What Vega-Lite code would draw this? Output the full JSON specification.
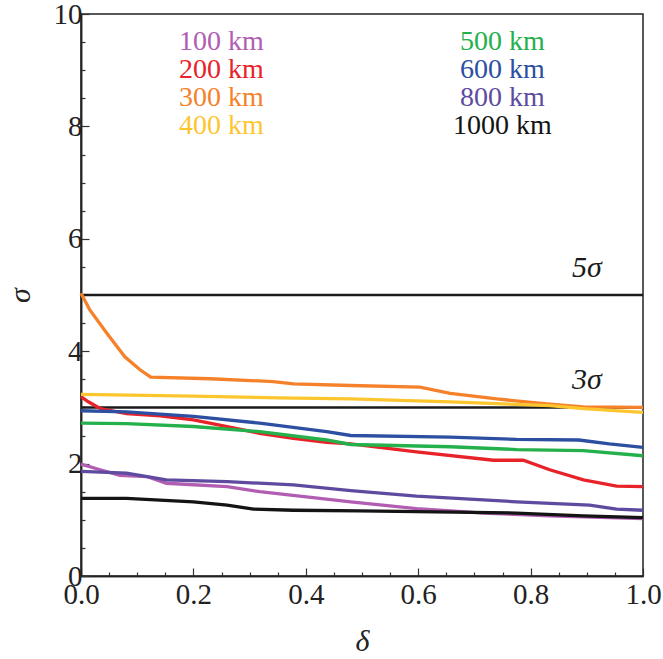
{
  "$schema": "https://vega.github.io/schema/vega-lite/v6.json",
  "width": 562,
  "height": 562,
  "autosize": {"type": "none"},
  "padding": {"left": 81, "top": 14, "right": 20, "bottom": 83},
  "background": "white",
  "config": {
    "view": {"stroke": "#222", "strokeWidth": 1.5},
    "axis": {
      "labelFont": "Liberation Serif",
      "labelFontSize": 29,
      "labelColor": "#222",
      "titleFont": "Liberation Serif",
      "titleFontSize": 30,
      "titleFontStyle": "italic",
      "titleFontWeight": "normal",
      "titleColor": "#222",
      "domainColor": "#222",
      "domainWidth": 1.5,
      "tickColor": "#333",
      "tickWidth": 1.2,
      "grid": false,
      "labelOverlap": false,
      "labelFlush": false
    }
  },
  "resolve": {"axis": {"x": "independent", "y": "independent"}},
  "datasets": {
    "curves": [
      {"series": "100 km", "delta": 0, "sigma": 1.99},
      {"series": "100 km", "delta": 0.034, "sigma": 1.89},
      {"series": "100 km", "delta": 0.069, "sigma": 1.79},
      {"series": "100 km", "delta": 0.117, "sigma": 1.77},
      {"series": "100 km", "delta": 0.152, "sigma": 1.65},
      {"series": "100 km", "delta": 0.26, "sigma": 1.59},
      {"series": "100 km", "delta": 0.318, "sigma": 1.5},
      {"series": "100 km", "delta": 0.48, "sigma": 1.32},
      {"series": "100 km", "delta": 0.597, "sigma": 1.2},
      {"series": "100 km", "delta": 0.716, "sigma": 1.12},
      {"series": "100 km", "delta": 0.834, "sigma": 1.07},
      {"series": "100 km", "delta": 1, "sigma": 1.02},

      {"series": "200 km", "delta": 0, "sigma": 3.19},
      {"series": "200 km", "delta": 0.013, "sigma": 3.1},
      {"series": "200 km", "delta": 0.034, "sigma": 2.98},
      {"series": "200 km", "delta": 0.081, "sigma": 2.89},
      {"series": "200 km", "delta": 0.141, "sigma": 2.85},
      {"series": "200 km", "delta": 0.2, "sigma": 2.78},
      {"series": "200 km", "delta": 0.26, "sigma": 2.66},
      {"series": "200 km", "delta": 0.318, "sigma": 2.54},
      {"series": "200 km", "delta": 0.378, "sigma": 2.45},
      {"series": "200 km", "delta": 0.437, "sigma": 2.38},
      {"series": "200 km", "delta": 0.48, "sigma": 2.35},
      {"series": "200 km", "delta": 0.597, "sigma": 2.21},
      {"series": "200 km", "delta": 0.734, "sigma": 2.06},
      {"series": "200 km", "delta": 0.787, "sigma": 2.06},
      {"series": "200 km", "delta": 0.834, "sigma": 1.89},
      {"series": "200 km", "delta": 0.894, "sigma": 1.71},
      {"series": "200 km", "delta": 0.953, "sigma": 1.6},
      {"series": "200 km", "delta": 1, "sigma": 1.59},

      {"series": "300 km", "delta": 0, "sigma": 5.03},
      {"series": "300 km", "delta": 0.016, "sigma": 4.73},
      {"series": "300 km", "delta": 0.046, "sigma": 4.32},
      {"series": "300 km", "delta": 0.078, "sigma": 3.9},
      {"series": "300 km", "delta": 0.105, "sigma": 3.67},
      {"series": "300 km", "delta": 0.124, "sigma": 3.54},
      {"series": "300 km", "delta": 0.23, "sigma": 3.51},
      {"series": "300 km", "delta": 0.342, "sigma": 3.46},
      {"series": "300 km", "delta": 0.378, "sigma": 3.42},
      {"series": "300 km", "delta": 0.48, "sigma": 3.39},
      {"series": "300 km", "delta": 0.603, "sigma": 3.36},
      {"series": "300 km", "delta": 0.657, "sigma": 3.25},
      {"series": "300 km", "delta": 0.74, "sigma": 3.15},
      {"series": "300 km", "delta": 0.834, "sigma": 3.06},
      {"series": "300 km", "delta": 0.894, "sigma": 3.01},
      {"series": "300 km", "delta": 1, "sigma": 3.0},

      {"series": "400 km", "delta": 0, "sigma": 3.23},
      {"series": "400 km", "delta": 0.2, "sigma": 3.2},
      {"series": "400 km", "delta": 0.35, "sigma": 3.17},
      {"series": "400 km", "delta": 0.48, "sigma": 3.15},
      {"series": "400 km", "delta": 0.657, "sigma": 3.1},
      {"series": "400 km", "delta": 0.834, "sigma": 3.03},
      {"series": "400 km", "delta": 0.894, "sigma": 2.98},
      {"series": "400 km", "delta": 1, "sigma": 2.91},

      {"series": "500 km", "delta": 0, "sigma": 2.72},
      {"series": "500 km", "delta": 0.081, "sigma": 2.71},
      {"series": "500 km", "delta": 0.2, "sigma": 2.66},
      {"series": "500 km", "delta": 0.318, "sigma": 2.57},
      {"series": "500 km", "delta": 0.437, "sigma": 2.42},
      {"series": "500 km", "delta": 0.48, "sigma": 2.34},
      {"series": "500 km", "delta": 0.657, "sigma": 2.3},
      {"series": "500 km", "delta": 0.775, "sigma": 2.25},
      {"series": "500 km", "delta": 0.894, "sigma": 2.23},
      {"series": "500 km", "delta": 1, "sigma": 2.14},

      {"series": "600 km", "delta": 0, "sigma": 2.94},
      {"series": "600 km", "delta": 0.081, "sigma": 2.92},
      {"series": "600 km", "delta": 0.2, "sigma": 2.84},
      {"series": "600 km", "delta": 0.318, "sigma": 2.72},
      {"series": "600 km", "delta": 0.437, "sigma": 2.57},
      {"series": "600 km", "delta": 0.48, "sigma": 2.5},
      {"series": "600 km", "delta": 0.657, "sigma": 2.47},
      {"series": "600 km", "delta": 0.775, "sigma": 2.43},
      {"series": "600 km", "delta": 0.886, "sigma": 2.42},
      {"series": "600 km", "delta": 0.94, "sigma": 2.35},
      {"series": "600 km", "delta": 1, "sigma": 2.29},

      {"series": "800 km", "delta": 0, "sigma": 1.86},
      {"series": "800 km", "delta": 0.081, "sigma": 1.83},
      {"series": "800 km", "delta": 0.152, "sigma": 1.71},
      {"series": "800 km", "delta": 0.26, "sigma": 1.68},
      {"series": "800 km", "delta": 0.378, "sigma": 1.62},
      {"series": "800 km", "delta": 0.48, "sigma": 1.52},
      {"series": "800 km", "delta": 0.597, "sigma": 1.42},
      {"series": "800 km", "delta": 0.775, "sigma": 1.32},
      {"series": "800 km", "delta": 0.905, "sigma": 1.26},
      {"series": "800 km", "delta": 0.953, "sigma": 1.19},
      {"series": "800 km", "delta": 1, "sigma": 1.17},

      {"series": "1000 km", "delta": 0, "sigma": 1.38},
      {"series": "1000 km", "delta": 0.081, "sigma": 1.38},
      {"series": "1000 km", "delta": 0.2, "sigma": 1.32},
      {"series": "1000 km", "delta": 0.26, "sigma": 1.26},
      {"series": "1000 km", "delta": 0.307, "sigma": 1.19},
      {"series": "1000 km", "delta": 0.378, "sigma": 1.17},
      {"series": "1000 km", "delta": 0.496, "sigma": 1.16},
      {"series": "1000 km", "delta": 0.775, "sigma": 1.12},
      {"series": "1000 km", "delta": 0.894, "sigma": 1.07},
      {"series": "1000 km", "delta": 1, "sigma": 1.04}
    ],
    "levels": [{"level": 3}, {"level": 5}],
    "keys": [
      {"series": "100 km", "delta": 0.25, "sigma": 9.5},
      {"series": "200 km", "delta": 0.25, "sigma": 9.0},
      {"series": "300 km", "delta": 0.25, "sigma": 8.5},
      {"series": "400 km", "delta": 0.25, "sigma": 8.0},
      {"series": "500 km", "delta": 0.75, "sigma": 9.5},
      {"series": "600 km", "delta": 0.75, "sigma": 9.0},
      {"series": "800 km", "delta": 0.75, "sigma": 8.5},
      {"series": "1000 km", "delta": 0.75, "sigma": 8.0}
    ],
    "marks": [
      {"label": "5σ", "delta": 0.9, "sigma": 5.32},
      {"label": "3σ", "delta": 0.9, "sigma": 3.33}
    ]
  },
  "layer": [
    {
      "data": {"name": "levels"},
      "mark": {"type": "rule", "color": "#1a1a1a", "strokeWidth": 2.5},
      "encoding": {
        "y": {"field": "level", "type": "quantitative", "scale": {"domain": [0, 10], "nice": false}, "axis": null}
      }
    },
    {
      "data": {"name": "curves"},
      "mark": {"type": "line", "strokeWidth": 3.3, "interpolate": "linear"},
      "encoding": {
        "x": {
          "field": "delta", "type": "quantitative",
          "scale": {"domain": [0, 1], "nice": false, "zero": false},
          "axis": {
            "orient": "bottom",
            "title": null,
            "values": [0.05, 0.1, 0.15, 0.25, 0.3, 0.35, 0.45, 0.5, 0.55, 0.65, 0.7, 0.75, 0.85, 0.9, 0.95],
            "labels": false,
            "tickSize": -4
          }
        },
        "y": {
          "field": "sigma", "type": "quantitative",
          "scale": {"domain": [0, 10], "nice": false},
          "axis": {
            "orient": "left",
            "title": null,
            "values": [0.5, 1, 1.5, 2.5, 3, 3.5, 4.5, 5, 5.5, 6.5, 7, 7.5, 8.5, 9, 9.5],
            "labels": false,
            "tickSize": -4
          }
        },
        "color": {
          "field": "series", "type": "nominal",
          "scale": {
            "domain": ["100 km", "200 km", "300 km", "400 km", "500 km", "600 km", "800 km", "1000 km"],
            "range": ["#b15db2", "#e82229", "#f5822b", "#fdc62f", "#24b04b", "#2d4fa1", "#5e4ba0", "#141414"]
          },
          "legend": null
        }
      }
    },
    {
      "data": {"name": "keys"},
      "mark": {"type": "text", "font": "Liberation Serif", "fontSize": 28, "align": "center", "baseline": "middle"},
      "encoding": {
        "x": {
          "field": "delta", "type": "quantitative",
          "axis": {
            "orient": "bottom",
            "title": "δ",
            "values": [0, 0.2, 0.4, 0.6, 0.8, 1.0],
            "format": ".1f",
            "tickSize": -8,
            "labelPadding": 12,
            "titleX": 281,
            "titleY": 65,
            "titleBaseline": "middle",
            "titleAlign": "center"
          }
        },
        "y": {
          "field": "sigma", "type": "quantitative",
          "axis": {
            "orient": "left",
            "title": "σ",
            "values": [0, 2, 4, 6, 8, 10],
            "format": "d",
            "tickSize": -8,
            "labelPadding": 7,
            "titleX": -61,
            "titleY": 281,
            "titleAngle": -90,
            "titleBaseline": "middle",
            "titleAlign": "center"
          }
        },
        "text": {"field": "series"},
        "color": {"field": "series", "type": "nominal", "legend": null}
      }
    },
    {
      "data": {"name": "marks"},
      "mark": {"type": "text", "font": "Liberation Serif", "fontSize": 30, "fontStyle": "italic", "align": "center", "baseline": "alphabetic", "color": "#1a1a1a"},
      "encoding": {
        "x": {"field": "delta", "type": "quantitative", "axis": null},
        "y": {"field": "sigma", "type": "quantitative", "axis": null},
        "text": {"field": "label"}
      }
    }
  ]
}
